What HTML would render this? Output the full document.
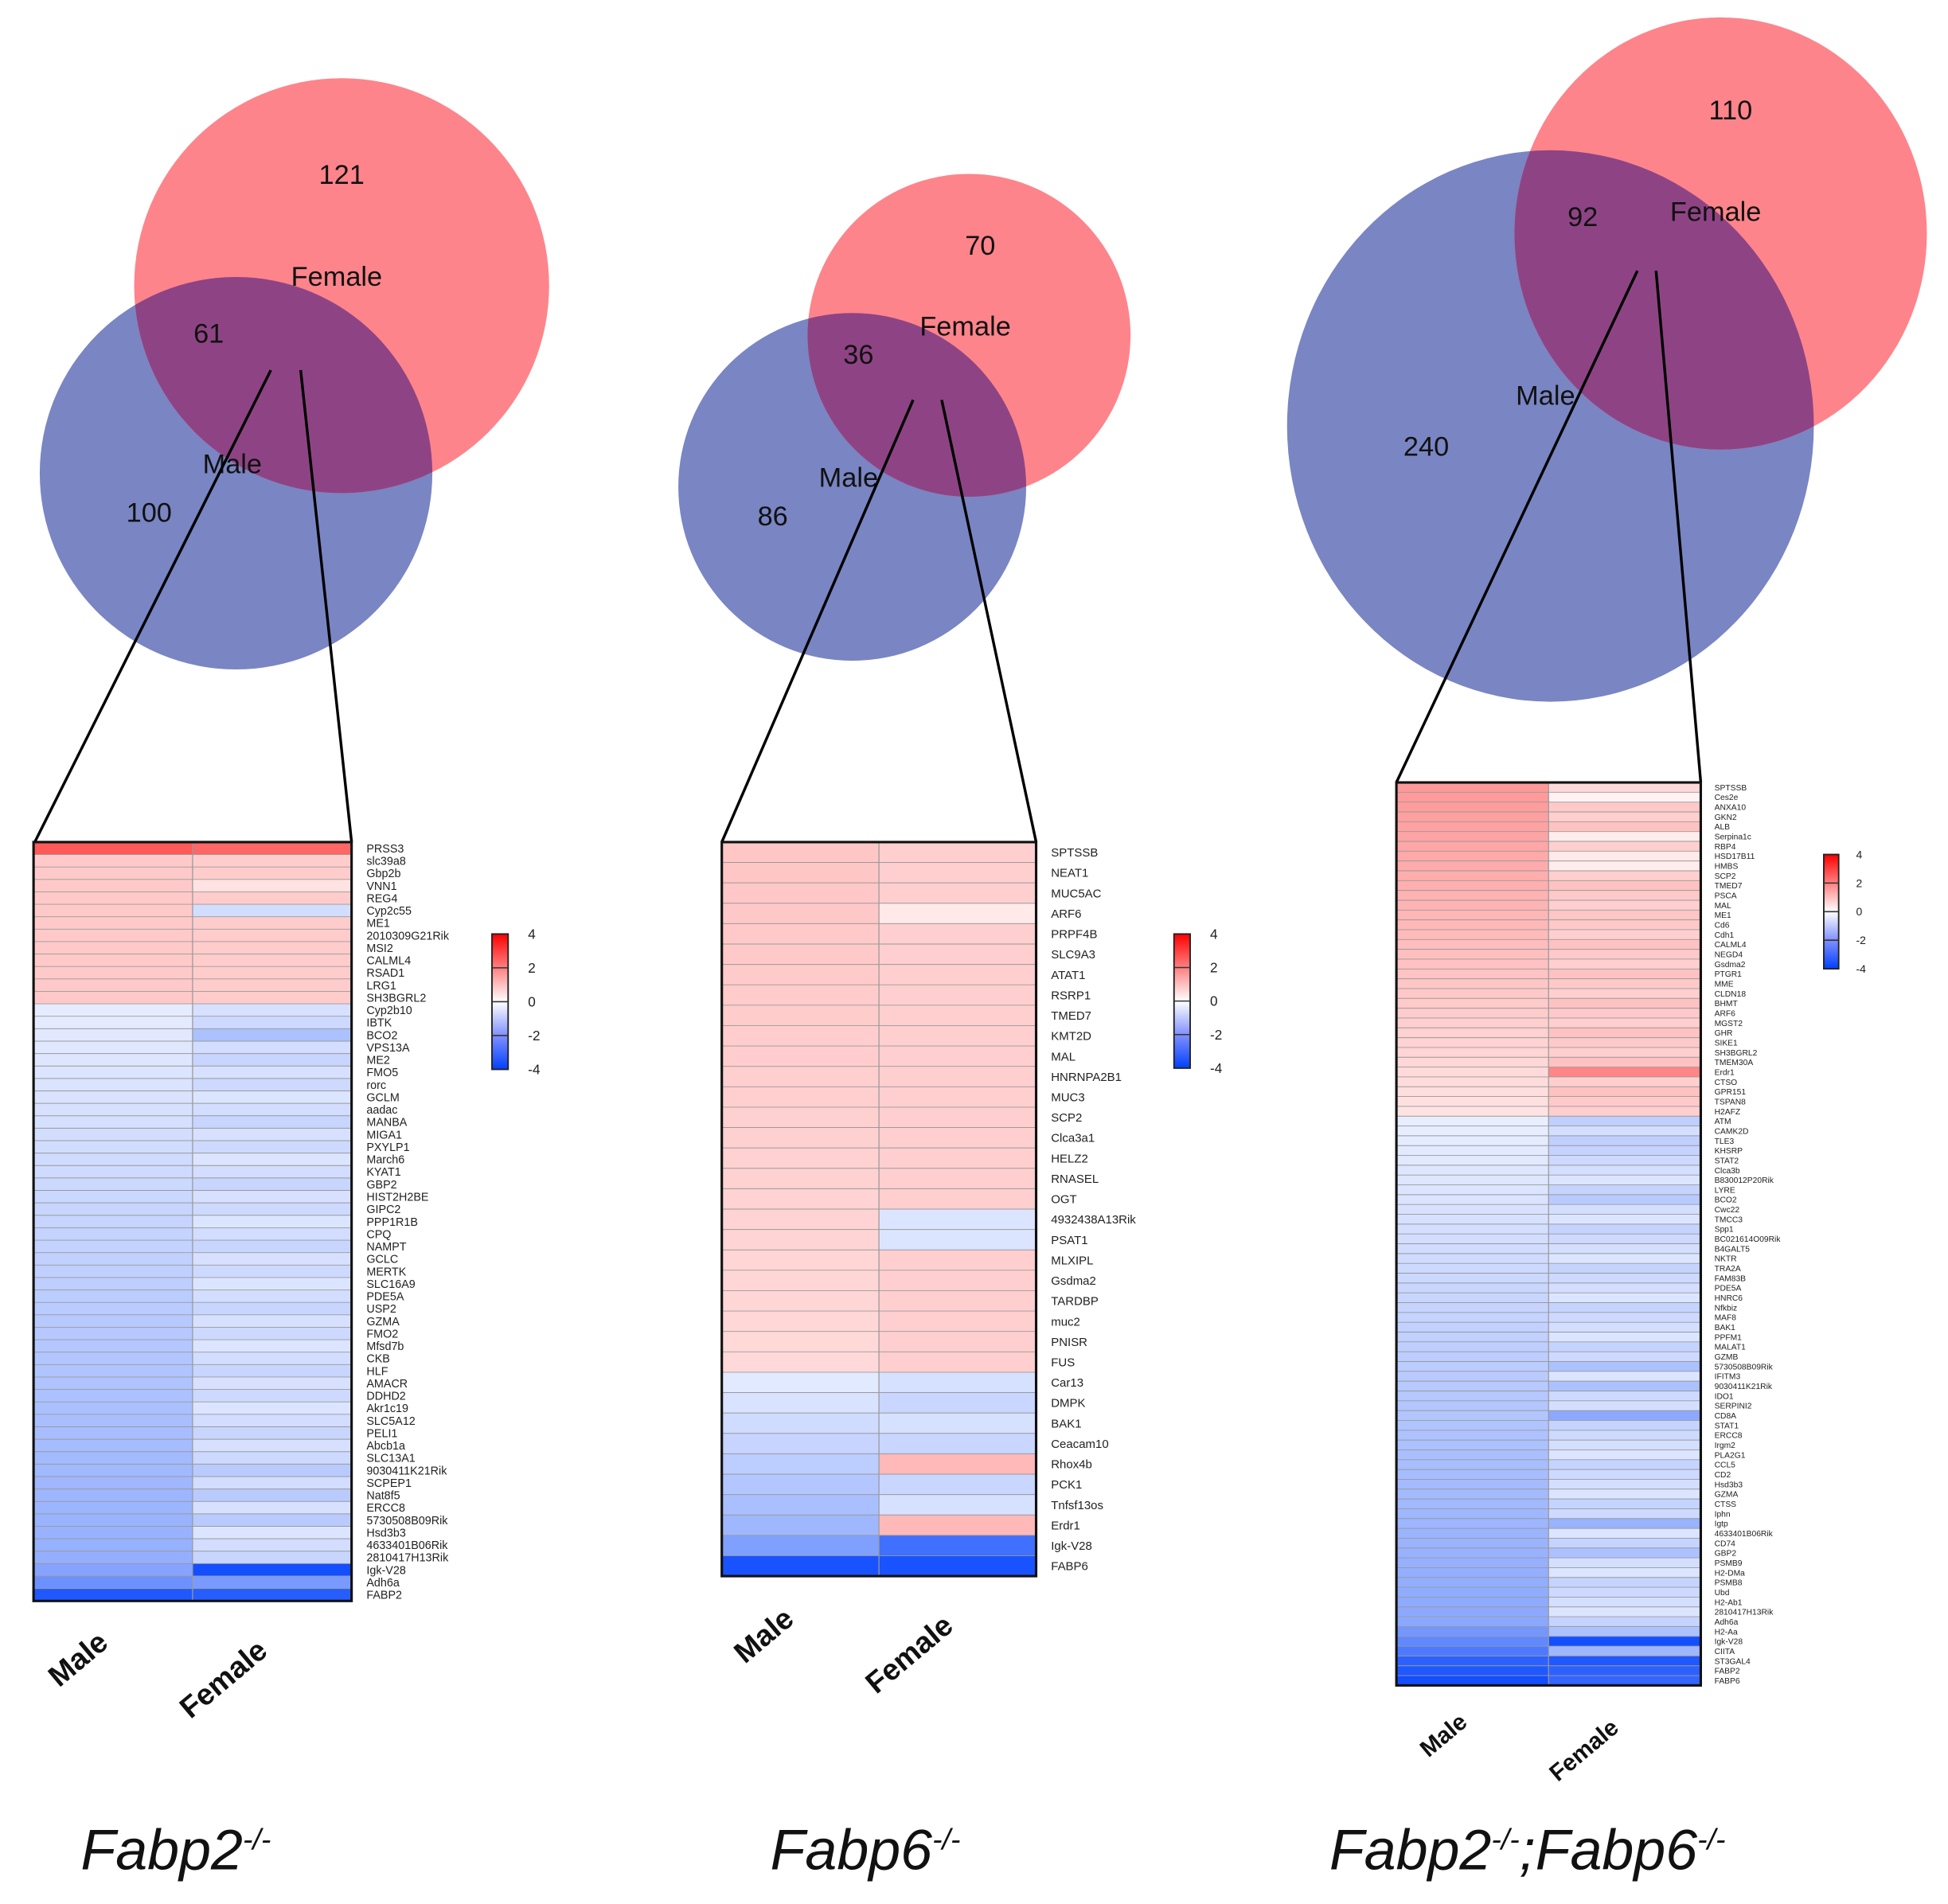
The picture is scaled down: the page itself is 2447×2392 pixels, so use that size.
<!DOCTYPE html>
<html><head><meta charset="utf-8"><style>
html,body{margin:0;padding:0;background:#fff}
svg{display:block}
text{font-family:"Liberation Sans",Arial,sans-serif}
</style></head><body>
<svg id="s" xmlns="http://www.w3.org/2000/svg" width="2447" height="2392" viewBox="0 0 1568 1533" preserveAspectRatio="none">
<rect width="1568" height="1533" fill="#fff"/>
<g id="g"></g>
</svg>
<script>
var NS="http://www.w3.org/2000/svg",G=document.getElementById('g');
function el(t,a,txt){var e=document.createElementNS(NS,t);for(var k in a)e.setAttribute(k,a[k]);if(txt!=null)e.textContent=txt;G.appendChild(e);return e;}
function col(v){var t=Math.min(Math.abs(v)/4,1);
 if(v>=0){var g=Math.round(255*(1-t));return 'rgb(255,'+g+','+g+')';}
 var r=Math.round(255*(1-t)),g2=Math.round(255*(1-t)+64*t);return 'rgb('+r+','+g2+',255)';}
var FP='#fe848b',MP='#7a85c3',OP='#8e4484',cid=0;
function venn(m,f,labels,lines){
 el('ellipse',{cx:m[0],cy:m[1],rx:m[2],ry:m[3],fill:MP});
 el('ellipse',{cx:f[0],cy:f[1],rx:f[2],ry:f[3],fill:FP});
 var id='c'+(cid++);var cp=el('clipPath',{id:id});
 var e=document.createElementNS(NS,'ellipse');e.setAttribute('cx',m[0]);e.setAttribute('cy',m[1]);e.setAttribute('rx',m[2]);e.setAttribute('ry',m[3]);cp.appendChild(e);
 el('ellipse',{cx:f[0],cy:f[1],rx:f[2],ry:f[3],fill:OP,'clip-path':'url(#'+id+')'});
 labels.forEach(function(l){el('text',{x:l[1],y:l[2],'font-size':22,'text-anchor':'middle',fill:'#111'},l[0]);});
 lines.forEach(function(l){el('line',{x1:l[0],y1:l[1],x2:l[2],y2:l[3],stroke:'#000','stroke-width':2.2});});
}
function heat(x0,x1,y0,y1,mv,fv,names,lx,fs){
 var n=mv.length,h=(y1-y0)/n,xm=x0+(x1-x0)/2;
 for(var i=0;i<n;i++){var y=y0+i*h;
  el('rect',{x:x0,y:y,width:xm-x0,height:h+0.3,fill:col(mv[i])});
  el('rect',{x:xm,y:y,width:x1-xm,height:h+0.3,fill:col(fv[i])});
  if(i>0)el('line',{x1:x0,y1:y,x2:x1,y2:y,stroke:'#9a9a9a','stroke-width':0.6});
  el('text',{x:lx,y:y+h/2+fs*0.36,'font-size':fs,fill:'#222'},names[i]||'');
 }
 el('line',{x1:xm,y1:y0,x2:xm,y2:y1,stroke:'#999','stroke-width':0.8});
 el('rect',{x:x0,y:y0,width:x1-x0,height:y1-y0,fill:'none',stroke:'#111','stroke-width':2});
}
function legend(x,y0,w,h,fs,lx){
 var id='lg'+(cid++);var lg=el('linearGradient',{id:id,x1:0,y1:0,x2:0,y2:1});
 [[0,'#ff0000'],[0.25,'#ff8080'],[0.5,'#ffffff'],[0.75,'#8090ff'],[1,'#0040ff']].forEach(function(s){var st=document.createElementNS(NS,'stop');st.setAttribute('offset',s[0]);st.setAttribute('stop-color',s[1]);lg.appendChild(st);});
 el('rect',{x:x,y:y0,width:w,height:h,fill:'url(#'+id+')',stroke:'#222','stroke-width':1.2});
 ['4','2','0','-2','-4'].forEach(function(t,i){var y=y0+i*h/4;
  if(i>0&&i<4)el('line',{x1:x,y1:y,x2:x+w,y2:y,stroke:'#333','stroke-width':1});
  el('text',{x:lx,y:y+fs*0.35,'font-size':fs,fill:'#222'},t);});
}
function rot(t,x,y,fs){el('text',{x:x,y:y,'font-size':fs,'font-weight':'bold','text-anchor':'middle',transform:'rotate(-40 '+x+' '+y+')',fill:'#111'},t);}
function title(x,y,parts){var t=el('text',{x:x,y:y,'font-size':46,'font-style':'italic',fill:'#111'});
 parts.forEach(function(p){var s=document.createElementNS(NS,'tspan');s.textContent=p[0];s.setAttribute('font-size',p[2]||46);if(p[1])s.setAttribute('dy',p[1]);t.appendChild(s);});}

/* Panel 1 */
venn([190,381,158,158],[275,230,167,167],[['121',275,148],['Female',271,230],['61',168,276],['Male',187,381],['100',120,420]],[[218,298,28,678],[242,298,283,678]]);
var n1=['PRSS3','slc39a8','Gbp2b','VNN1','REG4','Cyp2c55','ME1','2010309G21Rik','MSI2','CALML4','RSAD1','LRG1','SH3BGRL2','Cyp2b10','IBTK','BCO2','VPS13A','ME2','FMO5','rorc','GCLM','aadac','MANBA','MIGA1','PXYLP1','March6','KYAT1','GBP2','HIST2H2BE','GIPC2','PPP1R1B','CPQ','NAMPT','GCLC','MERTK','SLC16A9','PDE5A','USP2','GZMA','FMO2','Mfsd7b','CKB','HLF','AMACR','DDHD2','Akr1c19','SLC5A12','PELI1','Abcb1a','SLC13A1','9030411K21Rik','SCPEP1','Nat8f5','ERCC8','5730508B09Rik','Hsd3b3','4633401B06Rik','2810417H13Rik','Igk-V28','Adh6a','FABP2'];
var m1=[],f1=[];for(var i=0;i<61;i++){
 if(i==0){m1.push(2.6);f1.push(2.4);}
 else if(i<13){m1.push(0.85);f1.push(i==3?0.45:(i==5?-0.7:0.8));}
 else if(i<58){m1.push(-0.4-(i-13)/45*1.3);f1.push([15].indexOf(i)>=0?-1.3:(i==50||i==52||i==54?-1.1:-0.55-((i*7)%5)*0.08));}
 else if(i==58){m1.push(-1.9);f1.push(-3.7);}else if(i==59){m1.push(-2.3);f1.push(-2.1);}else{m1.push(-3.5);f1.push(-3.4);}
}
heat(27,283,678,1289,m1,f1,n1,295,9.2);
legend(396,752,13,109,11,425);
rot('Male',68,1342,24);rot('Female',185,1358,24);
title(65,1505,[['Fabp2'],['-/-',-16,24]]);

/* Panel 2 */
venn([686,392,140,140],[780,270,130,130],[['70',789,205],['Female',777,270],['36',691,293],['Male',683,392],['86',622,423]],[[735,322,581,678],[758,322,834,678]]);
var n2=['SPTSSB','NEAT1','MUC5AC','ARF6','PRPF4B','SLC9A3','ATAT1','RSRP1','TMED7','KMT2D','MAL','HNRNPA2B1','MUC3','SCP2','Clca3a1','HELZ2','RNASEL','OGT','4932438A13Rik','PSAT1','MLXIPL','Gsdma2','TARDBP','muc2','PNISR','FUS','Car13','DMPK','BAK1','Ceacam10','Rhox4b','PCK1','Tnfsf13os','Erdr1','Igk-V28','FABP6'];
var m2=[],f2=[];for(var i=0;i<36;i++){
 if(i<26){m2.push(0.9-i*0.012);f2.push(i==3?0.35:(i==18||i==19?-0.55:0.75));}
 else if(i<34){m2.push(-0.45-(i-26)*0.15);f2.push(i==30?1.1:(i==33?1.1:-0.65-(i%2)*0.2));}
 else if(i==34){m2.push(-2.0);f2.push(-3.0);}else{m2.push(-3.6);f2.push(-3.6);}
}
heat(581,834,678,1269,m2,f2,n2,846,9.6);
legend(945,752,13,108,11,974);
rot('Male',620,1323,24);rot('Female',737,1338,24);
title(620,1505,[['Fabp6'],['-/-',-16,24]]);

/* Panel 3 */
venn([1248,343,212,222],[1385,188,166,174],[['110',1393,96],['92',1274,182],['Female',1381,178],['Male',1244,326],['240',1148,367]],[[1318,218,1124,630],[1333,218,1369,630]]);
var n3=['SPTSSB','Ces2e','ANXA10','GKN2','ALB','Serpina1c','RBP4','HSD17B11','HMBS','SCP2','TMED7','PSCA','MAL','ME1','Cd6','Cdh1','CALML4','NEGD4','Gsdma2','PTGR1','MME','CLDN18','BHMT','ARF6','MGST2','GHR','SIKE1','SH3BGRL2','TMEM30A','Erdr1','CTSO','GPR151','TSPAN8','H2AFZ','ATM','CAMK2D','TLE3','KHSRP','STAT2','Clca3b','B830012P20Rik','LYRE','BCO2','Cwc22','TMCC3','Spp1','BC021614O09Rik','B4GALT5','NKTR','TRA2A','FAM83B','PDE5A','HNRC6','Nfkbiz','MAF8','BAK1','PPFM1','MALAT1','GZMB','5730508B09Rik','IFITM3','9030411K21Rik','IDO1','SERPINI2','CD8A','STAT1','ERCC8','Irgm2','PLA2G1','CCL5','CD2','Hsd3b3','GZMA','CTSS','Iphn','Igtp','4633401B06Rik','CD74','GBP2','PSMB9','H2-DMa','PSMB8','Ubd','H2-Ab1','2810417H13Rik','Adh6a','H2-Aa','Igk-V28','CIITA','ST3GAL4','FABP2','FABP6'];
var m3=[],f3=[];var fpos={0:0.6,1:0.2,5:0.3,7:0.35,8:0.3,13:0.9,29:1.9};var fneg={34:-1.0,36:-1.0,42:-1.1,59:-1.3,61:-1.3,64:-1.8,75:-1.6,78:-1.3,86:-1.3,87:-3.7,88:-1.5,89:-3.5,90:-3.3,91:-3.2};
for(var i=0;i<92;i++){
 if(i<34){m3.push(1.6-i*0.035);f3.push(fpos[i]!=null?fpos[i]:0.75+((i*5)%3)*0.1);}
 else{var mv=i<86?-0.35-(i-34)/52*1.5:(i<89?-2.2-(i-86)*0.3:-3.3-(i-89)*0.2);m3.push(mv);f3.push(fneg[i]!=null?fneg[i]:-0.55-((i*7)%4)*0.12);}
}
heat(1124,1369,630,1357,m3,f3,n3,1380,6.6);
legend(1468,688,12,92,9,1494);
rot('Male',1166,1402,19);rot('Female',1279,1414,19);
title(1070,1505,[['Fabp2'],['-/-',-16,24],[';Fabp6',16,46],['-/-',-16,24]]);
</script>
</body></html>
